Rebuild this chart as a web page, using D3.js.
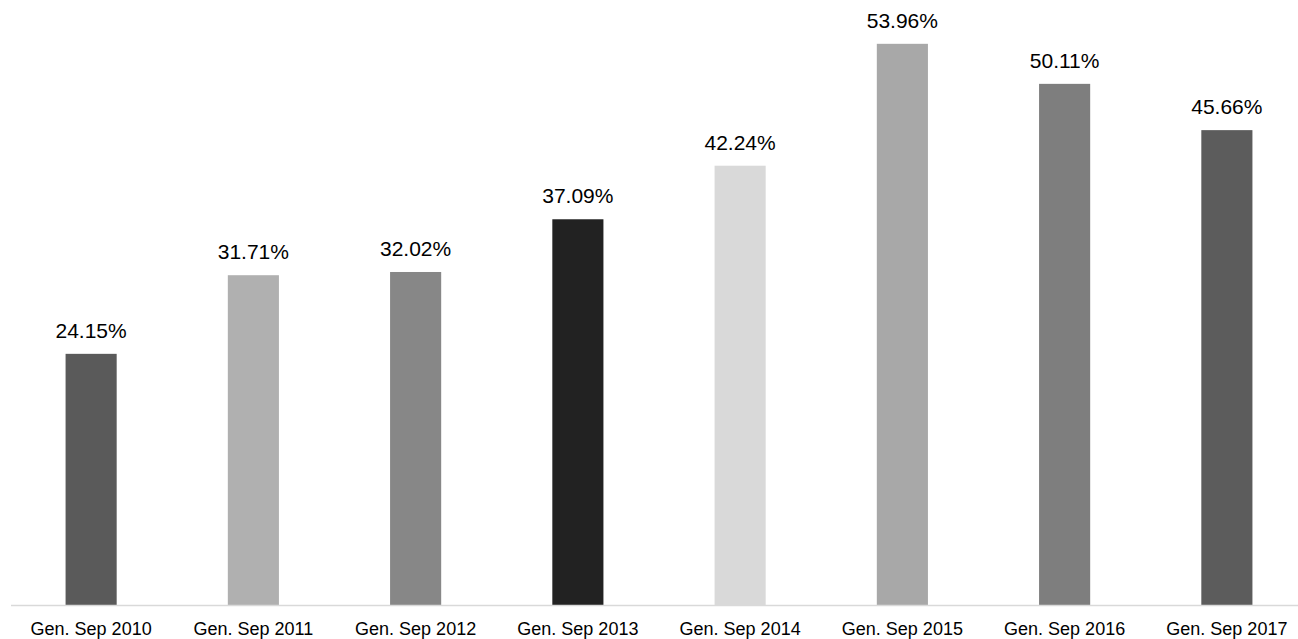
<!DOCTYPE html>
<html><head><meta charset="utf-8">
<script src="https://cdn.jsdelivr.net/npm/d3@7"></script>
<style>body{margin:0;background:#fff}svg{display:block}text{font-family:"Liberation Sans",Arial,sans-serif}</style>
</head><body><svg id="c" width="1298" height="639"></svg>
<script>
const categories = ["Gen. Sep 2010","Gen. Sep 2011","Gen. Sep 2012","Gen. Sep 2013","Gen. Sep 2014","Gen. Sep 2015","Gen. Sep 2016","Gen. Sep 2017"];
const values = [24.15, 31.71, 32.02, 37.09, 42.24, 53.96, 50.11, 45.66];
const valueLabels = ["24.15%","31.71%","32.02%","37.09%","42.24%","53.96%","50.11%","45.66%"];
const colors = ["#5a5a5a","#b0b0b0","#878787","#222222","#d9d9d9","#a8a8a8","#7e7e7e","#5c5c5c"];

const svg = d3.select("#c");
const x = d3.scaleBand().domain(categories).range([10, 1308]).paddingInner(0.685).paddingOuter(0.3425);
const y = d3.scaleLinear().domain([0, 60]).range([605, 605 - 60*10.4]);

svg.selectAll("rect.bar").data(values).join("rect")
  .attr("class","bar")
  .attr("x",(d,i)=>x(categories[i]))
  .attr("width",x.bandwidth())
  .attr("y",d=>y(d))
  .attr("height",d=>y(0)-y(d))
  .attr("fill",(d,i)=>colors[i]);

svg.append("line").attr("x1",11).attr("x2",1298).attr("y1",605.5).attr("y2",605.5)
  .attr("stroke","#d9d9d9").attr("stroke-width",1.5);

svg.selectAll("text.val").data(values).join("text")
  .attr("class","val")
  .attr("x",(d,i)=>x(categories[i])+x.bandwidth()/2)
  .attr("y",d=>y(d)-16)
  .attr("text-anchor","middle").attr("font-size",21).attr("fill","#000")
  .text((d,i)=>valueLabels[i]);

svg.selectAll("text.cat").data(categories).join("text")
  .attr("class","cat")
  .attr("x",d=>x(d)+x.bandwidth()/2)
  .attr("y",635)
  .attr("text-anchor","middle").attr("font-size",18).attr("fill","#000")
  .text(d=>d);
</script></body></html>
